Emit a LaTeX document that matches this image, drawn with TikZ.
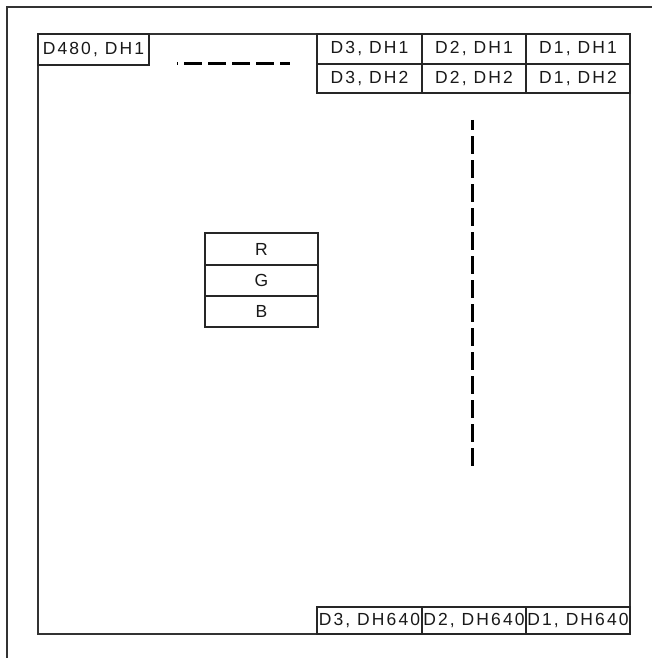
\documentclass[tikz,border=0pt]{standalone}
\usepackage{fontspec}
\setmainfont{Liberation Sans}[LetterSpace=12]

\begin{document}
\begin{tikzpicture}[x=1pt,y=-1pt]
  \tikzset{FrameStyle/.style = {
    draw          = black!80,
    line width    = 1.4pt,
    line cap      = rect
    }
  }
  \tikzset{CellStyle/.style = {
    shape         = rectangle,
    draw          = black!85,
    fill          = white,
    line width    = 1.3pt,
    text          = black!90,
    inner sep     = 0pt,
    outer sep     = 0pt,
    font          = \fontsize{17.5}{20}\selectfont
    }
  }
  \tikzset{DashStyle/.style = {
    draw          = black,
    line width    = 3pt,
    dash pattern  = on 18pt off 6pt
    }
  }
  \useasboundingbox (0,0) rectangle (652,658);

  % outer page edge and inner frame
  \coordinate (P1) at (7,658);
  \coordinate (P2) at (7,7);
  \coordinate (P3) at (652,7);
  \draw[FrameStyle] (P1) -- (P2) -- (P3);
  \draw[FrameStyle] (38,34) rectangle (630,634);

  \node[CellStyle, minimum width=111pt, minimum height=31pt](A1) at (93.5, 49.5) {D480, DH1};
  \node[CellStyle, minimum width=105pt, minimum height=30pt](B3) at (369.5, 49) {D3, DH1};
  \node[CellStyle, minimum width=104pt, minimum height=30pt](B2) at (474, 49) {D2, DH1};
  \node[CellStyle, minimum width=104pt, minimum height=30pt](B1) at (578, 49) {D1, DH1};
  \node[CellStyle, minimum width=105pt, minimum height=29pt](C3) at (369.5, 78.5) {D3, DH2};
  \node[CellStyle, minimum width=104pt, minimum height=29pt](C2) at (474, 78.5) {D2, DH2};
  \node[CellStyle, minimum width=104pt, minimum height=29pt](C1) at (578, 78.5) {D1, DH2};
  \node[CellStyle, minimum width=105pt, minimum height=27pt](D3) at (369.5, 620.5) {D3, DH640};
  \node[CellStyle, minimum width=104pt, minimum height=27pt](D2) at (474, 620.5) {D2, DH640};
  \node[CellStyle, minimum width=104pt, minimum height=27pt](D1) at (578, 620.5) {D1, DH640};
  \node[CellStyle, minimum width=113pt, minimum height=32pt](R) at (261.5, 249) {R};
  \node[CellStyle, minimum width=113pt, minimum height=31pt](G) at (261.5, 280.5) {G};
  \node[CellStyle, minimum width=113pt, minimum height=31pt](B) at (261.5, 311.5) {B};

  % continuation dashes
  \coordinate (H1) at (177,64);
  \coordinate (H2) at (290,64);
  \coordinate (V1) at (472,120);
  \coordinate (V2) at (472,467);
  \draw[DashStyle, dash phase=17pt] (H1) -- (H2);
  \draw[DashStyle, dash phase=8pt] (V1) -- (V2);

\end{tikzpicture}
\end{document}
